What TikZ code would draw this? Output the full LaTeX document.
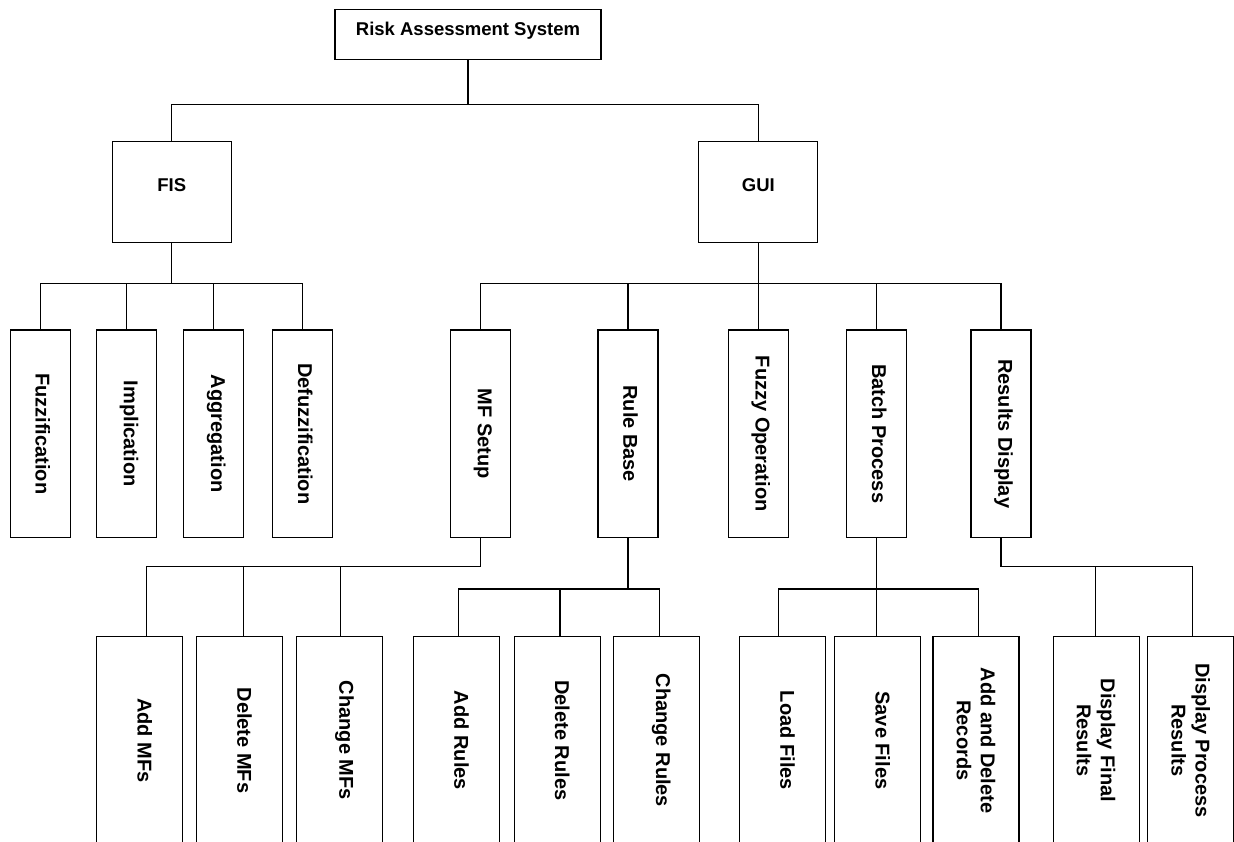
\documentclass[tikz,border=0pt]{standalone}
\usepackage{fontspec}
\setmainfont{Liberation Sans}
\begin{document}
\begin{tikzpicture}[x=1pt,y=-1pt,
  box/.style={draw, line width=1.2pt, inner sep=0pt},
  topbox/.style={box, minimum width=119pt, minimum height=101.4pt},
  leafbox/.style={box, minimum width=60pt, minimum height=207.3pt},
  subbox/.style={box, minimum width=86pt, minimum height=207.3pt},
  conn/.style={line width=1.1pt},
  hl/.style={font=\bfseries\fontsize{18.5}{22}\selectfont, inner sep=0pt},
  vl/.style={font=\bfseries\fontsize{20}{24}\selectfont, rotate=-90, align=center, inner sep=0pt}]
\useasboundingbox (0,0) rectangle (1234,842);
\clip (0,0) rectangle (1234,842);

% level 0
\node[box, minimum width=266pt, minimum height=50pt] (root) at (468,34.3) {};
% level 1
\node[topbox] (fis) at (171.8,192) {};
\node[topbox] (gui) at (758.3,192) {};
% level 2
\node[leafbox] (fuzz)   at (40.3,433.7) {};
\node[leafbox] (impl)   at (126.5,433.7) {};
\node[leafbox] (aggr)   at (213.7,433.7) {};
\node[leafbox] (defuzz) at (302.7,433.7) {};
\node[leafbox] (mfs)  at (480.4,433.7) {};
\node[leafbox] (rb)   at (628,433.7) {};
\node[leafbox] (fo)   at (758.3,433.7) {};
\node[leafbox] (bp)   at (876.8,433.7) {};
\node[leafbox] (resd) at (1001,433.7) {};
% level 3
\node[subbox] (addmf) at (139.7,740.4) {};
\node[subbox] (delmf) at (239.5,740.4) {};
\node[subbox] (chgmf) at (339.6,740.4) {};
\node[subbox] (addr)  at (456.6,740.4) {};
\node[subbox] (delr)  at (557.3,740.4) {};
\node[subbox] (chgr)  at (656.3,740.4) {};
\node[subbox] (load)  at (782.5,740.4) {};
\node[subbox] (save)  at (877.8,740.4) {};
\node[subbox] (adr)   at (976,740.4) {};
\node[subbox] (dfr)   at (1096.1,740.4) {};
\node[subbox] (dpr)   at (1190.8,740.4) {};

% labels
\node[hl] (rootL) at ([yshift=3.5pt]root.center) {Risk Assessment System};
\node[hl] (fisL) at ([yshift=6.5pt]fis.center) {FIS};
\node[hl] (guiL) at ([yshift=6.5pt]gui.center) {GUI};
\node[vl] (fuzzL) at ([xshift=2.5pt]fuzz.center) {Fuzzification};
\node[vl] (implL) at ([xshift=2.5pt]impl.center) {Implication};
\node[vl] (aggrL) at ([xshift=2.5pt]aggr.center) {Aggregation};
\node[vl] (defuzzL) at ([xshift=2.5pt]defuzz.center) {Defuzzification};
\node[vl] (mfsL) at ([xshift=2.5pt]mfs.center) {MF Setup};
\node[vl] (rbL) at ([xshift=2.5pt]rb.center) {Rule Base};
\node[vl] (foL) at ([xshift=2.5pt]fo.center) {Fuzzy Operation};
\node[vl] (bpL) at ([xshift=2.5pt]bp.center) {Batch Process};
\node[vl] (resdL) at ([xshift=2.5pt]resd.center) {Results Display};
\node[vl] (addmfL) at ([xshift=5pt]addmf.center) {Add MFs};
\node[vl] (delmfL) at ([xshift=5pt]delmf.center) {Delete MFs};
\node[vl] (chgmfL) at ([xshift=5pt]chgmf.center) {Change MFs};
\node[vl] (addrL) at ([xshift=5pt]addr.center) {Add Rules};
\node[vl] (delrL) at ([xshift=5pt]delr.center) {Delete Rules};
\node[vl] (chgrL) at ([xshift=5pt]chgr.center) {Change Rules};
\node[vl] (loadL) at ([xshift=5pt]load.center) {Load Files};
\node[vl] (saveL) at ([xshift=5pt]save.center) {Save Files};
\node[vl] (adrL) at (adr.center) {Add and Delete\\Records};
\node[vl] (dfrL) at (dfr.center) {Display Final\\Results};
\node[vl] (dprL) at (dpr.center) {Display Process\\Results};

% connectors level 0 -> 1
\draw[conn] (root.south) -- ++(0,44.4) coordinate (b1);
\draw[conn] (fis.north) |- (b1) -| (gui.north);
% FIS -> children
\draw[conn] (fis.south) -- ++(0,40.6) coordinate (b2);
\draw[conn] (fuzz.north) |- (b2) -| (defuzz.north);
\draw[conn] (impl.north) -- (impl.north |- b2);
\draw[conn] (aggr.north) -- (aggr.north |- b2);
% GUI -> children
\draw[conn] (gui.south) -- ++(0,40.6) coordinate (b3);
\draw[conn] (mfs.north) |- (b3) -| (resd.north);
\draw[conn] (rb.north) -- (rb.north |- b3);
\draw[conn] (fo.north) -- (fo.north |- b3);
\draw[conn] (bp.north) -- (bp.north |- b3);
% MF Setup -> children
\draw[conn] (mfs.south) -- ++(0,28.7) coordinate (b4);
\draw[conn] ([xshift=6.7pt]addmf.north) |- (b4);
\draw[conn] ([xshift=3.8pt]delmf.north) -- ([xshift=3.8pt]delmf.north |- b4);
\draw[conn] ([xshift=0.6pt]chgmf.north) -- ([xshift=0.6pt]chgmf.north |- b4);
% Rule Base -> children
\draw[conn] (rb.south) -- ++(0,51) coordinate (b5);
\draw[conn] ([xshift=2.2pt]addr.north) |- (b5) -| ([xshift=3.4pt]chgr.north);
\draw[conn] ([xshift=2.7pt]delr.north) -- ([xshift=2.7pt]delr.north |- b5);
% Batch Process -> children
\draw[conn] (bp.south) -- ++(0,51) coordinate (b6);
\draw[conn] ([xshift=-3.8pt]load.north) |- (b6) -| ([xshift=2.3pt]adr.north);
\draw[conn] ([xshift=-1pt]save.north) -- ([xshift=-1pt]save.north |- b6);
% Results Display -> children
\draw[conn] (resd.south) -- ++(0,28.7) coordinate (b7);
\draw[conn] (b7) -| ([xshift=1.4pt]dpr.north);
\draw[conn] ([xshift=-0.7pt]dfr.north) -- ([xshift=-0.7pt]dfr.north |- b7);
\end{tikzpicture}
\end{document}
